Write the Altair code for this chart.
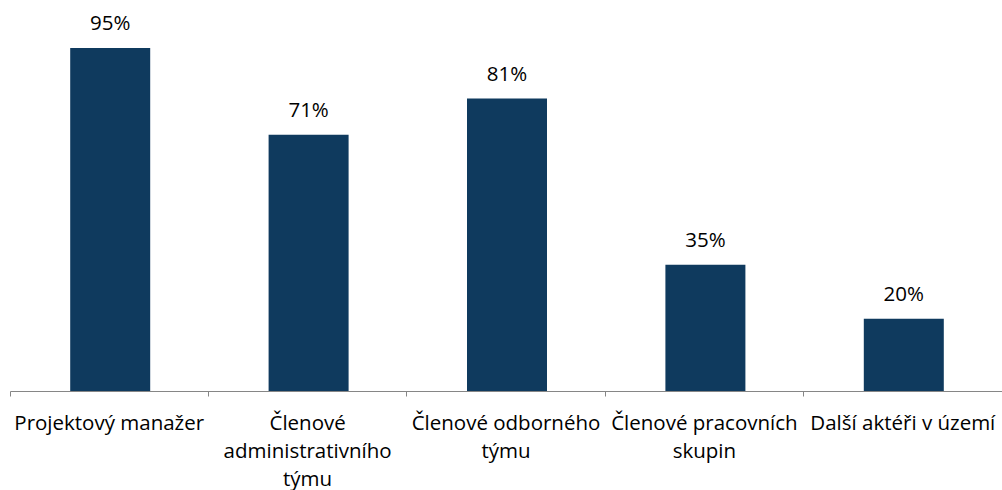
import altair as alt
import pandas as pd

categories = ["Projektový manažer", "Členové administrativního týmu", "Členové odborného týmu",
              "Členové pracovních skupin", "Další aktéři v území"]
wrapped = ["Projektový manažer", "Členové|administrativního|týmu", "Členové odborného|týmu",
           "Členové pracovních|skupin", "Další aktéři v území"]
values = [0.95, 0.71, 0.81, 0.35, 0.20]
labels = ["95%", "71%", "81%", "35%", "20%"]

df = pd.DataFrame({"cat": wrapped, "value": values, "label": labels})

FONT = "Open Sans"
x = alt.X("cat:N", sort=wrapped, title=None,
          scale=alt.Scale(paddingInner=0, paddingOuter=0),
          axis=alt.Axis(labelAngle=0, labelExpr="split(datum.label, '|')",
                        labelFont=FONT, labelFontSize=20.5, labelColor="#000000",
                        labelLineHeight=28, labelPadding=17, labelLimit=400,
                        labelOverlap=False, labelBound=False,
                        domainColor="#868686", tickColor="#868686", tickSize=5,
                        bandPosition=0, grid=False))
y = alt.Y("value:Q", scale=alt.Scale(domain=[0, 1.083], nice=False, zero=True), axis=None)

bars = alt.Chart(df).mark_bar(color="#0F3A5E", width=80, xOffset=1).encode(x=x, y=y)
text = alt.Chart(df).mark_text(font=FONT, fontSize=20.5, color="#000000", baseline="bottom", dy=-14, dx=1).encode(
    x=x, y=y, text="label:N")

chart = (bars + text).properties(width=992, height=391).configure_view(stroke=None).properties(
    autosize=alt.AutoSizeParams(type="none"),
    padding={"left": 10, "top": 0, "right": 0, "bottom": 99},
    background="white")

chart.save("out.html", embed_options={"renderer": "svg", "actions": False})
